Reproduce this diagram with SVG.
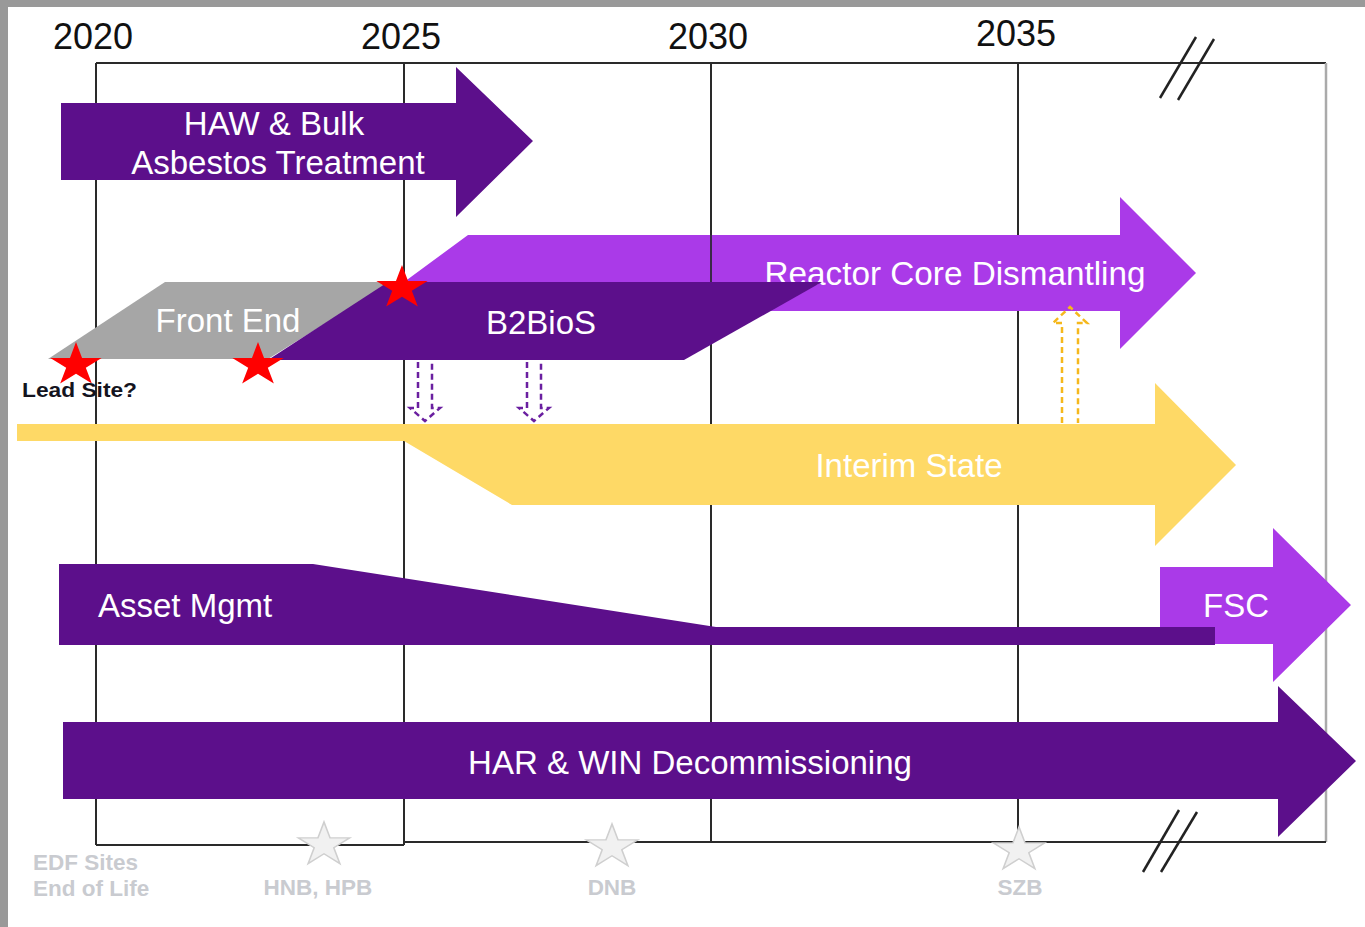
<svg xmlns="http://www.w3.org/2000/svg" width="1365" height="927" viewBox="0 0 1365 927">
  <defs>
    <style>
      .grid { stroke: #2a2a2a; stroke-width: 2; fill: none; }
      .year { font-family: "Liberation Sans", Arial, sans-serif; font-size: 36px; fill: #111; text-anchor: middle; }
      .lbl { font-family: "Liberation Sans", Arial, sans-serif; font-size: 33px; fill: #ffffff; text-anchor: middle; }
      .dark { fill: #5C0F8B; }
      .light { fill: #AA3AE8; }
      .yellow { fill: #FED966; }
      .note { font-family: "Liberation Sans", Arial, sans-serif; font-size: 22.5px; font-weight: bold; fill: #c9cbd0; }
      .brk { stroke: #222; stroke-width: 2.5; }
    </style>
    <polygon id="star" points="0,-1 0.2245,-0.309 0.951,-0.309 0.3633,0.118 0.5878,0.809 0,0.382 -0.5878,0.809 -0.3633,0.118 -0.951,-0.309 -0.2245,-0.309"/>
  </defs>

  <!-- page frame -->
  <rect x="0" y="0" width="1365" height="927" fill="#999999"/>
  <rect x="8" y="7" width="1357" height="920" fill="#ffffff"/>

  <!-- timeline grid -->
  <g id="grid">
    <line class="grid" x1="96" y1="63" x2="1326" y2="63"/>
    <line x1="1326" y1="63" x2="1326" y2="842" stroke="#aaaaaa" stroke-width="2.5"/>
    <line class="grid" x1="96" y1="63" x2="96" y2="845"/>
    <line class="grid" x1="404" y1="63" x2="404" y2="845"/>
    <line class="grid" x1="711" y1="63" x2="711" y2="842"/>
    <line class="grid" x1="1018" y1="63" x2="1018" y2="842"/>
    <line class="grid" x1="96" y1="845" x2="404" y2="845"/>
    <line class="grid" x1="404" y1="842" x2="1326" y2="842"/>
    <text class="year" x="93" y="49">2020</text>
    <text class="year" x="401" y="49">2025</text>
    <text class="year" x="708" y="49">2030</text>
    <text class="year" x="1016" y="46">2035</text>
  </g>

  <!-- axis break marks -->
  <g id="breaks">
    <line class="brk" x1="1160" y1="98" x2="1196" y2="37"/>
    <line class="brk" x1="1178" y1="100" x2="1214" y2="39"/>
    <line class="brk" x1="1143" y1="872" x2="1179" y2="810"/>
    <line class="brk" x1="1161" y1="872" x2="1197" y2="812"/>
  </g>

  <g id="haw-bulk">
    <polygon class="dark" points="61,103 456,103 456,67 533,141 456,217 456,180 61,180"/>
    <text class="lbl" x="274" y="135">HAW &amp; Bulk</text>
    <text class="lbl" x="278" y="174">Asbestos Treatment</text>
  </g>

  <g id="reactor-core">
    <polygon class="light" points="400,285 468,235 1120,235 1120,197 1196,273 1120,349 1120,311 400,311"/>
    <line x1="711" y1="235" x2="711" y2="283" stroke="#3a2a48" stroke-width="2"/>
    <text class="lbl" x="955" y="285" textLength="381" lengthAdjust="spacingAndGlyphs">Reactor Core Dismantling</text>
  </g>

  <g id="front-end">
    <polygon fill="#A6A6A6" points="48,359 165,282 392,282 268,359"/>
    <text class="lbl" x="228" y="332" fill="#f4f4f4">Front End</text>
  </g>

  <g id="b2bios">
    <polygon class="dark" points="268,360 388,282 822,282 684,360"/>
    <text class="lbl" x="541" y="334">B2BioS</text>
  </g>

  <g id="milestones">
    <use href="#star" fill="#FF0000" transform="translate(76,365) scale(27,23)"/>
    <use href="#star" fill="#FF0000" transform="translate(258,365) scale(27,23)"/>
    <use href="#star" fill="#FF0000" transform="translate(402,288) scale(27,23)"/>
    <text x="22" y="397" font-family="Liberation Sans, Arial, sans-serif" font-size="21" font-weight="bold" fill="#14141e" textLength="115" lengthAdjust="spacingAndGlyphs">Lead Site?</text>
  </g>

  <g id="interim-state">
    <polygon class="yellow" points="17,424 1155,424 1155,383 1236,465 1155,546 1155,505 512,505 404,441 17,441"/>
    <text class="lbl" x="909" y="477">Interim State</text>
  </g>

  <g id="connectors" fill="none" stroke-width="2.5" stroke-dasharray="6,4">
    <path d="M418,362 V408 H410 L425,421 L440,408 H432 V362" stroke="#6A1FA0"/>
    <path d="M527,362 V408 H519 L534,421 L549,408 H541 V362" stroke="#6A1FA0"/>
    <path d="M1062,423 V323 H1053 L1070,307 L1087,323 H1078 V423" stroke="#F5B81C"/>
  </g>

  <g id="fsc">
    <polygon class="light" points="1160,567 1273,567 1273,528 1351,605 1273,682 1273,644 1160,644"/>
    <text class="lbl" x="1236" y="617">FSC</text>
  </g>

  <g id="asset-mgmt">
    <polygon class="dark" points="59,564 313,564 716,627 1215,627 1215,645 59,645"/>
    <text class="lbl" x="98" y="617" style="text-anchor:start">Asset Mgmt</text>
  </g>

  <g id="har-win">
    <polygon class="dark" points="63,722 1278,722 1278,686 1356,761 1278,837 1278,799 63,799"/>
    <text class="lbl" x="690" y="774">HAR &amp; WIN Decommissioning</text>
  </g>

  <g id="edf-sites">
    <use href="#star" fill="#f1f1f1" stroke="#cfcfcf" stroke-width="0.06" transform="translate(324,845) scale(27,23)"/>
    <use href="#star" fill="#f1f1f1" stroke="#cfcfcf" stroke-width="0.06" transform="translate(612,847) scale(27,23)"/>
    <use href="#star" fill="#f1f1f1" stroke="#cfcfcf" stroke-width="0.06" transform="translate(1019,850) scale(27,23)"/>
    <text class="note" x="33" y="870">EDF Sites</text>
    <text class="note" x="33" y="896">End of Life</text>
    <text class="note" x="318" y="895" style="text-anchor:middle">HNB, HPB</text>
    <text class="note" x="612" y="895" style="text-anchor:middle">DNB</text>
    <text class="note" x="1020" y="895" style="text-anchor:middle">SZB</text>
  </g>
</svg>
